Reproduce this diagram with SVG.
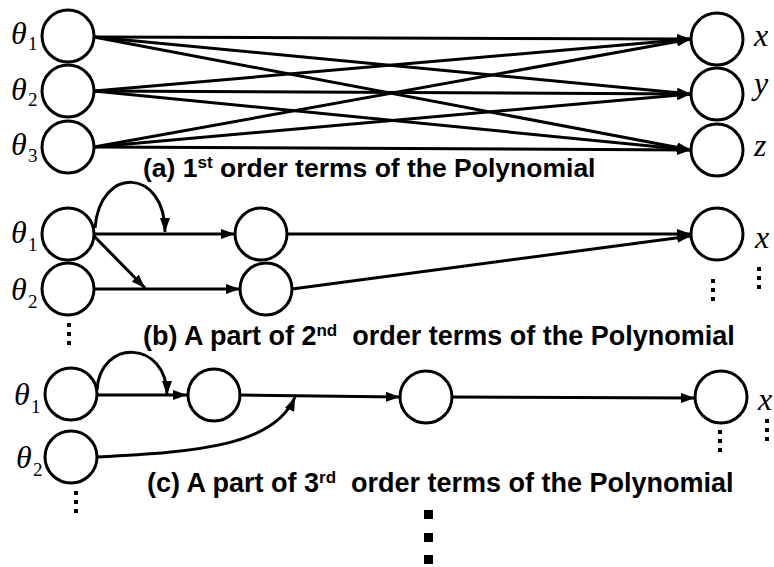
<svg xmlns="http://www.w3.org/2000/svg" width="774" height="567" viewBox="0 0 774 567">
<style>
.node{fill:#fff;stroke:#000;stroke-width:3}
.edge{fill:none;stroke:#000;stroke-width:3;marker-end:url(#ah)}
.var{font-family:"Liberation Serif",serif;font-style:italic;font-size:32px;fill:#000}
.sub{font-family:"Liberation Serif",serif;font-size:19px;fill:#000}
.cap{font-family:"Liberation Sans",Arial,sans-serif;font-weight:bold;font-size:27px;fill:#000;white-space:pre}
.sup{font-size:17px}
.dot{fill:#000}
</style>
<defs>
<marker id="ah" viewBox="0 0 14 10" refX="14" refY="5" markerWidth="14" markerHeight="10" markerUnits="userSpaceOnUse" orient="auto">
<path d="M0,0 L14,5 L0,10 z" fill="#000"/>
</marker>
</defs>
<rect width="774" height="567" fill="#fff"/>

<g id="connectors">
<path class="edge" d="M94,37 L691,39"/>
<path class="edge" d="M94,37 L691,94"/>
<path class="edge" d="M94,37 L691,150"/>
<path class="edge" d="M94,91 L691,39"/>
<path class="edge" d="M94,91 L691,94"/>
<path class="edge" d="M94,91 L691,150"/>
<path class="edge" d="M94,147 L691,39"/>
<path class="edge" d="M94,147 L691,94"/>
<path class="edge" d="M94,147 L691,150"/>
<path class="edge" d="M94,234 L235,234"/>
<path class="edge" d="M95,228 C100,165 165,168 165,232"/>
<path class="edge" d="M94,236 L145,288"/>
<path class="edge" d="M94,289 L240,289"/>
<path class="edge" d="M287,234 L691,234"/>
<path class="edge" d="M292,289 L691,236"/>
<path class="edge" d="M97,395 L187,395"/>
<path class="edge" d="M97,390 C100,338 167,340 167,395"/>
<path class="edge" d="M240,395 L400,397"/>
<path class="edge" d="M97,457 C200,452 275,445 295,397"/>
<path class="edge" d="M452,397 L695,398"/>
</g>

<g id="a-theta1"><circle class="node" cx="68" cy="36" r="26"/><text class="var" x="11" y="44">θ</text><text class="sub" x="28" y="50">1</text></g>
<g id="a-theta2"><circle class="node" cx="68" cy="91" r="26"/><text class="var" x="11" y="100">θ</text><text class="sub" x="28" y="106">2</text></g>
<g id="a-theta3"><circle class="node" cx="68" cy="147" r="26"/><text class="var" x="11" y="155">θ</text><text class="sub" x="28" y="162">3</text></g>
<g id="a-x"><circle class="node" cx="717" cy="39" r="26"/><text class="var" x="754" y="46">x</text></g>
<g id="a-y"><circle class="node" cx="717" cy="94" r="26"/><text class="var" x="754" y="94">y</text></g>
<g id="a-z"><circle class="node" cx="717" cy="150" r="26"/><text class="var" x="754" y="156">z</text></g>
<text class="cap" x="143" y="177" style="font-size:26.5px">(a) 1<tspan class="sup" dy="-9">st</tspan><tspan dy="9"> order terms of the Polynomial</tspan></text>

<g id="b-theta1"><circle class="node" cx="68" cy="234" r="26"/><text class="var" x="11" y="243">θ</text><text class="sub" x="28" y="251">1</text></g>
<g id="b-theta2"><circle class="node" cx="68" cy="289" r="26"/><text class="var" x="11" y="300">θ</text><text class="sub" x="28" y="308">2</text></g>
<g id="b-m1"><circle class="node" cx="261" cy="234" r="26"/></g>
<g id="b-m2"><circle class="node" cx="266" cy="289" r="26"/></g>
<g id="b-x"><circle class="node" cx="717" cy="234" r="26"/><text class="var" x="755" y="248">x</text></g>
<g id="b-dots">
<rect class="dot" x="67" y="323" width="4" height="4"/><rect class="dot" x="67" y="332" width="4" height="4"/><rect class="dot" x="67" y="341" width="4" height="4"/>
<rect class="dot" x="711" y="279" width="4" height="4"/><rect class="dot" x="711" y="288" width="4" height="4"/><rect class="dot" x="711" y="297" width="4" height="4"/>
<rect class="dot" x="757" y="267" width="4" height="4"/><rect class="dot" x="757" y="276" width="4" height="4"/><rect class="dot" x="757" y="285" width="4" height="4"/>
</g>
<text class="cap" x="143" y="345">(b) A part of 2<tspan class="sup" dy="-9">nd</tspan><tspan dy="9">  order terms of the Polynomial</tspan></text>

<g id="c-theta1"><circle class="node" cx="71" cy="394" r="26"/><text class="var" x="14" y="405">θ</text><text class="sub" x="31" y="413">1</text></g>
<g id="c-theta2"><circle class="node" cx="71" cy="457" r="26"/><text class="var" x="16" y="468">θ</text><text class="sub" x="33" y="476">2</text></g>
<g id="c-m1"><circle class="node" cx="214" cy="395" r="26"/></g>
<g id="c-m2"><circle class="node" cx="426" cy="397" r="26"/></g>
<g id="c-x"><circle class="node" cx="721" cy="397" r="26"/><text class="var" x="758" y="410">x</text></g>
<g id="c-dots">
<rect class="dot" x="74" y="491" width="4" height="4"/><rect class="dot" x="74" y="500" width="4" height="4"/><rect class="dot" x="74" y="509" width="4" height="4"/>
<rect class="dot" x="718" y="430" width="4" height="4"/><rect class="dot" x="718" y="439" width="4" height="4"/><rect class="dot" x="718" y="448" width="4" height="4"/>
<rect class="dot" x="765" y="419" width="4" height="4"/><rect class="dot" x="765" y="428" width="4" height="4"/><rect class="dot" x="765" y="437" width="4" height="4"/>
</g>
<text class="cap" x="147" y="492">(c) A part of 3<tspan class="sup" dy="-9">rd</tspan><tspan dy="9">  order terms of the Polynomial</tspan></text>

<g id="more-dots">
<rect class="dot" x="424" y="510" width="9" height="9"/>
<rect class="dot" x="424" y="533" width="9" height="9"/>
<rect class="dot" x="424" y="555" width="9" height="9"/>
</g>
</svg>
